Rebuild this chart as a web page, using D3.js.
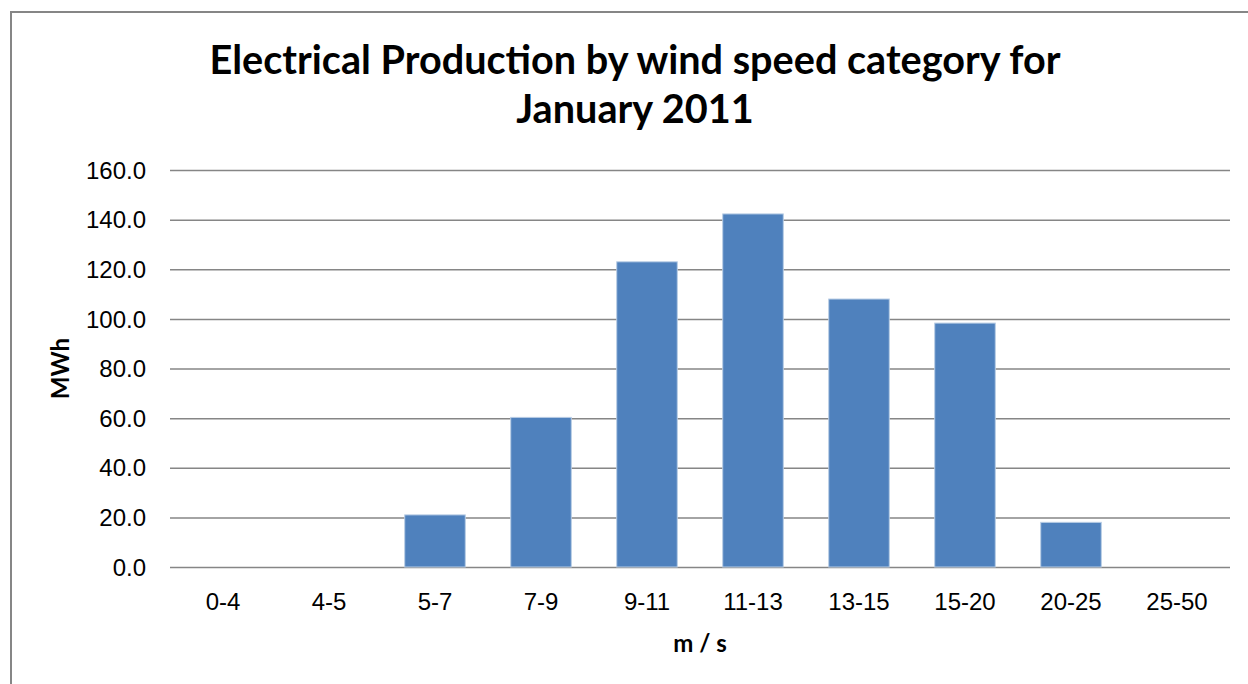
<!DOCTYPE html>
<html>
<head>
<meta charset="utf-8">
<script src="https://cdn.jsdelivr.net/npm/d3@7"></script>
<style>
  html, body { margin: 0; padding: 0; background: #fff; }
  svg { display: block; font-family: Lato, "Liberation Sans", sans-serif; }
</style>
</head>
<body>
<svg id="chart"></svg>
<script>
// wind speed bins (m/s) and production per bin (MWh)
const categories = ["0-4", "4-5", "5-7", "7-9", "9-11", "11-13", "13-15", "15-20", "20-25", "25-50"];
const production = [0, 0, 21, 60.3, 123, 142.3, 108, 98.3, 18, 0];
const yTicks = [0, 20, 40, 60, 80, 100, 120, 140, 160];
const titleLines = ["Electrical Production by wind speed category for", "January 2011"];

const W = 1248, H = 684;
const margin = {top: 170, right: 18, bottom: 117, left: 170};
const plotRight = W - margin.right;

const svg = d3.select("#chart").attr("width", W).attr("height", H);

// chart area border (cropped on the right and bottom)
svg.append("rect")
    .attr("x", 11).attr("y", 12)
    .attr("width", W + 20).attr("height", H + 20)
    .attr("fill", "none")
    .attr("stroke", "#868686")
    .attr("stroke-width", 2);

// Excel-style gap width of 75%
const x = d3.scaleBand()
    .domain(categories)
    .range([margin.left, plotRight])
    .paddingInner(0.75 / 1.75)
    .paddingOuter(0.75 / 3.5);

const y = d3.scaleLinear()
    .domain([0, 160])
    .range([H - margin.bottom, margin.top]);

// gridlines + y labels
const yAxis = d3.axisLeft(y)
    .tickValues(yTicks)
    .tickFormat(d3.format(".1f"))
    .tickSize(-(plotRight - margin.left))
    .tickPadding(24);

const gy = svg.append("g")
    .attr("transform", `translate(${margin.left},0)`)
    .call(yAxis);
gy.select(".domain").remove();
gy.selectAll(".tick line").attr("stroke", "#868686").attr("stroke-width", 1.5);
gy.selectAll(".tick text")
    .attr("fill", "#000")
    .style("font-size", "24px")
    .attr("dy", "0.34em");

// bars
svg.append("g")
  .selectAll("rect")
  .data(categories.map((c, i) => ({cat: c, value: production[i]})).filter(d => d.value > 0))
  .join("rect")
    .attr("x", d => x(d.cat))
    .attr("y", d => y(d.value))
    .attr("width", x.bandwidth())
    .attr("height", d => y(0) - y(d.value))
    .attr("fill", "#4F81BD")
    .attr("stroke", "#B9CDE5")
    .attr("stroke-width", 1);

// x labels (no axis line, baseline is the 0 gridline)
const xAxis = d3.axisBottom(x).tickSize(0).tickPadding(26);
const gx = svg.append("g")
    .attr("transform", `translate(0,${y(0)})`)
    .call(xAxis);
gx.select(".domain").remove();
gx.selectAll(".tick text")
    .attr("fill", "#000")
    .style("font-size", "24px");

// axis titles
svg.append("text")
    .attr("x", 700).attr("y", 652)
    .attr("text-anchor", "middle")
    .style("font-size", "24px").style("font-weight", "bold")
    .text("m / s");

svg.append("text")
    .attr("transform", `translate(69,${(y(0) + y(160)) / 2}) rotate(-90)`)
    .attr("text-anchor", "middle")
    .style("font-size", "24px").style("font-weight", "bold")
    .text("MWh");

// title, sized so the first line spans about the same width as the original
const title = svg.append("g").attr("text-anchor", "middle")
    .style("font-weight", "bold");
const t1 = title.append("text")
    .attr("x", 635).attr("y", 74)
    .style("font-size", "36px")
    .text(titleLines[0]);
const fs = 36 * 851 / t1.node().getComputedTextLength();
t1.style("font-size", fs + "px");
title.append("text")
    .attr("x", 635).attr("y", 123)
    .style("font-size", fs + "px")
    .text(titleLines[1]);
</script>
</body>
</html>
